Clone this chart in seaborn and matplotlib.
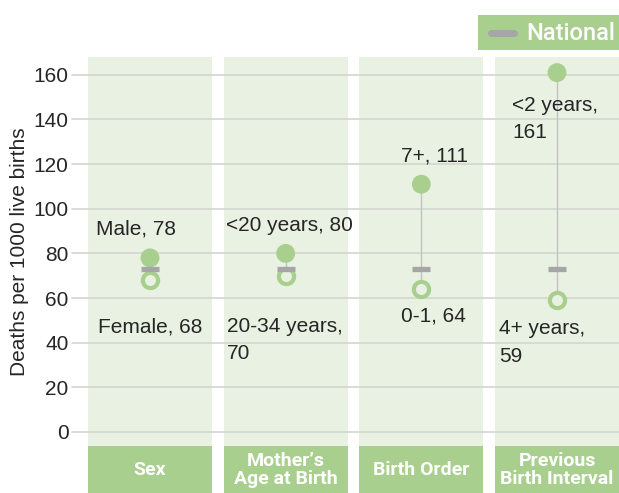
import matplotlib
matplotlib.use("Agg")
import matplotlib.pyplot as plt
import seaborn as sns
import pandas as pd
from matplotlib.patches import Rectangle

categories = ["Sex", "Mother\u2019s\nAge at Birth", "Birth Order", "Previous\nBirth Interval"]
high_values = [78, 80, 111, 161]
low_values = [68, 70, 64, 59]
national = 73
high_labels = ["Male, 78", "<20 years, 80", "7+, 111", "<2 years,\n161"]
low_labels = ["Female, 68", "20-34 years,\n70", "0-1, 64", "4+ years,\n59"]
yticks = [0, 20, 40, 60, 80, 100, 120, 140, 160]

GREEN = "#a9cf8f"
PANEL = "#e9f1e2"
GRAY = "#a6a6a6"
GRID = "#d3d6d0"
TXT = "#262626"

sns.set_style("white")
plt.rcParams["font.family"] = ["Liberation Sans", "DejaVu Sans"]

fig = plt.figure(figsize=(6.19, 4.93), dpi=100)
W, H = 619, 493
ax = fig.add_axes([88 / W, 1 - 446 / H, (619 - 88) / W, (446 - 57) / H])
ax.set_xlim(-0.457, 3.457)
ax.set_ylim(-6.3, 168)

xs = list(range(len(categories)))
hw = 0.457
for x in xs:
    ax.add_patch(Rectangle((x - hw, -10), 2 * hw, 200, facecolor=PANEL, edgecolor="none", zorder=0))

for t in yticks:
    ax.axhline(t, color=GRID, lw=1.2, zorder=1, xmin=-0.03, clip_on=False)

df = pd.DataFrame({"x": xs, "high": high_values, "low": low_values,
                   "nat": [national] * len(xs)})

for x, h, l in zip(xs, high_values, low_values):
    ax.plot([x, x], [l, h], color="#c3c3c3", lw=1, zorder=2)

sns.scatterplot(data=df, x="x", y="nat", marker="_", s=150, color=GRAY,
                linewidth=3.8, ax=ax, zorder=4, legend=False)
sns.scatterplot(data=df, x="x", y="high", s=185, color=GREEN, edgecolor="none",
                ax=ax, zorder=3, legend=False)
sns.scatterplot(data=df, x="x", y="low", s=120, facecolor=PANEL, edgecolor=GREEN,
                linewidth=3, ax=ax, zorder=3, legend=False)

# labels
high_off = [(-14, 29, "center"), (4, 28, "center"), (13, 28, "center"), (-45, -23, "left")]
low_off = [(0, -47, "center"), (-59, -41, "left"), (12, -27, "center"), (-58, -19, "left")]
for x, v, lab, (dx, dy, ha) in zip(xs, high_values, high_labels, high_off):
    ax.annotate(lab, (x, v), xytext=(dx, dy), textcoords="offset pixels",
                ha=ha, va="center" if "\n" not in lab else "top", fontsize=15,
                color=TXT, zorder=5, linespacing=1.55)
for x, v, lab, (dx, dy, ha) in zip(xs, low_values, low_labels, low_off):
    ax.annotate(lab, (x, v), xytext=(dx, dy), textcoords="offset pixels",
                ha=ha, va="center" if "\n" not in lab else "top", fontsize=15,
                color=TXT, zorder=5, linespacing=1.55)

ax.set_yticks(yticks)
ax.set_yticklabels([str(t) for t in yticks], fontsize=15, color=TXT)
ax.tick_params(axis="y", length=0, pad=14)
ax.set_xticks([])
ax.set_xlabel("")
ax.set_ylabel("Deaths per 1000 live births", fontsize=15, color=TXT, labelpad=3)
for s in ax.spines.values():
    s.set_visible(False)

# header boxes
for x, cat in zip(xs, categories):
    ax.add_patch(Rectangle((x - hw, 0), 2 * hw, -(493 - 446) / (446 - 57),
                           transform=ax.get_xaxis_transform(), facecolor=GREEN,
                           edgecolor="none", clip_on=False, zorder=2))
    ax.text(x, -(470 - 446) / (446 - 57), cat, transform=ax.get_xaxis_transform(),
            ha="center", va="center", color="white", fontsize=14, fontweight="bold",
            family=["Roboto", "DejaVu Sans"], linespacing=1.05,
            clip_on=False)

# legend box
fig.patches.append(Rectangle((478 / W, 1 - 50 / H), (619 - 478) / W, 35 / H,
                             transform=fig.transFigure, facecolor=GREEN,
                             edgecolor="none"))
fig.lines.append(plt.Line2D([491 / W, 514 / W], [1 - 33 / H, 1 - 33 / H],
                            transform=fig.transFigure, color=GRAY, lw=5))
fig.text(526 / W, 1 - 33 / H, "National", ha="left", va="center", color="white",
         fontsize=17, fontweight="medium", family=["Roboto", "DejaVu Sans"])

fig.savefig("out.png", dpi=100)
